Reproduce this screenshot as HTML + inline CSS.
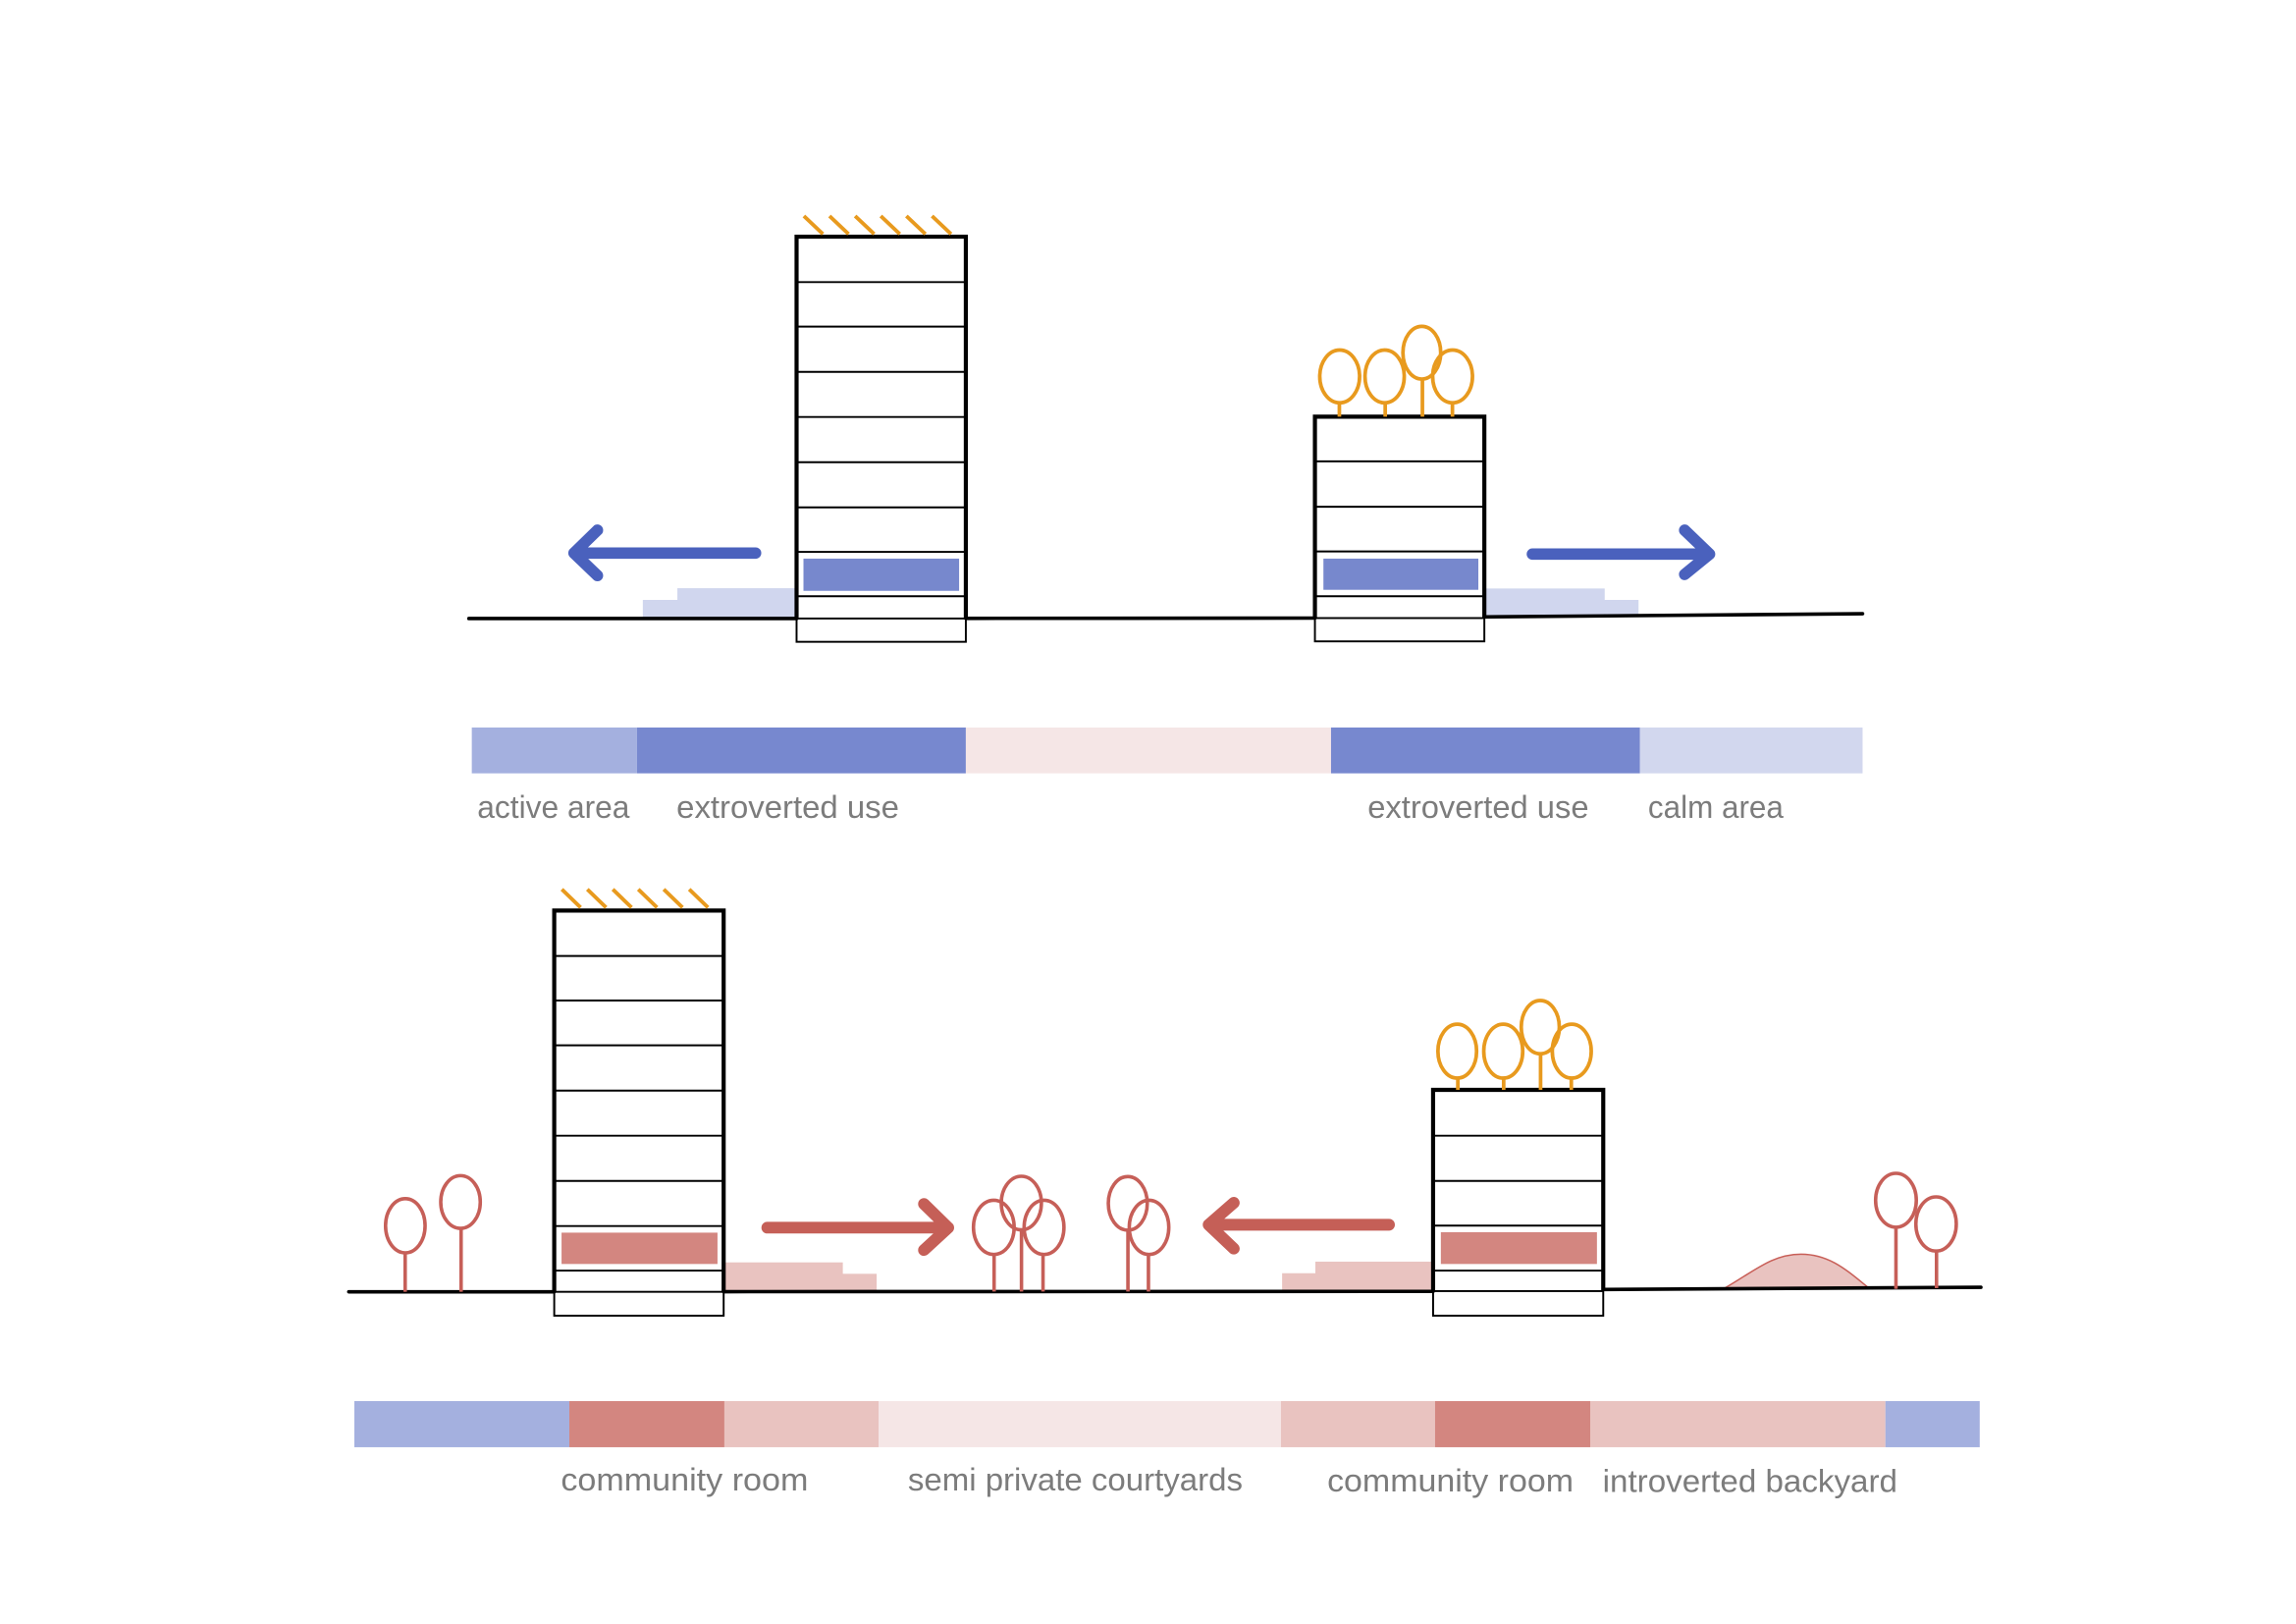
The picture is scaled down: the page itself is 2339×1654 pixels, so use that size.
<!DOCTYPE html>
<html>
<head>
<meta charset="utf-8">
<style>
html,body{margin:0;padding:0;background:#fff;}
svg{display:block;}
text{font-family:"Liberation Sans",sans-serif;fill:#7c7c7c;font-size:22px;}
</style>
</head>
<body>
<svg width="2339" height="1654" viewBox="0 0 1568 1108.8" preserveAspectRatio="none" xmlns="http://www.w3.org/2000/svg">
<rect x="0" y="0" width="1568" height="1108.8" fill="#fff"/>

<!-- ================= TOP SECTION ================= -->
<!-- steps -->
<rect x="439" y="409.6" width="105" height="12.7" fill="#d0d6ee"/>
<rect x="462.6" y="401.6" width="81.4" height="20.7" fill="#d0d6ee"/>
<rect x="1013.7" y="401.8" width="82.2" height="19.5" fill="#d0d6ee"/>
<rect x="1013.7" y="409.6" width="105.3" height="11.7" fill="#d0d6ee"/>

<!-- ground -->
<g stroke="#000" stroke-width="2.4" stroke-linecap="round" fill="none">
<line x1="320.2" y1="422.3" x2="544" y2="422.3"/>
<line x1="659.6" y1="422.2" x2="898" y2="422"/>
<line x1="1013.7" y1="421.2" x2="1272" y2="419"/>
</g>

<!-- Building A -->
<rect x="544" y="422.3" width="115.6" height="15.9" fill="none" stroke="#000" stroke-width="1.3"/>
<g stroke="#000" stroke-width="1.3">
<line x1="544" y1="192.6" x2="659.6" y2="192.6"/>
<line x1="544" y1="223" x2="659.6" y2="223"/>
<line x1="544" y1="253.9" x2="659.6" y2="253.9"/>
<line x1="544" y1="284.7" x2="659.6" y2="284.7"/>
<line x1="544" y1="315.6" x2="659.6" y2="315.6"/>
<line x1="544" y1="346.4" x2="659.6" y2="346.4"/>
<line x1="544" y1="376.8" x2="659.6" y2="376.8"/>
<line x1="544" y1="407.1" x2="659.6" y2="407.1"/>
</g>
<rect x="548.7" y="381.4" width="106.3" height="22" fill="#7788cd"/>
<path d="M544,423 V161.6 H659.6 V423" fill="none" stroke="#000" stroke-width="2.8" stroke-linejoin="miter"/>
<g stroke="#e89a1e" stroke-width="2.6" stroke-linecap="butt">
<line x1="549" y1="147.5" x2="562" y2="159.8"/>
<line x1="566.5" y1="147.5" x2="579.5" y2="159.8"/>
<line x1="584" y1="147.5" x2="597" y2="159.8"/>
<line x1="601.5" y1="147.5" x2="614.5" y2="159.8"/>
<line x1="619" y1="147.5" x2="632" y2="159.8"/>
<line x1="636.5" y1="147.5" x2="649.5" y2="159.8"/>
</g>

<!-- Building B -->
<rect x="898" y="422" width="115.7" height="15.9" fill="none" stroke="#000" stroke-width="1.3"/>
<g stroke="#000" stroke-width="1.3">
<line x1="898" y1="315" x2="1013.7" y2="315"/>
<line x1="898" y1="346" x2="1013.7" y2="346"/>
<line x1="898" y1="376.5" x2="1013.7" y2="376.5"/>
<line x1="898" y1="407.1" x2="1013.7" y2="407.1"/>
</g>
<rect x="903.8" y="381.4" width="105.8" height="21.3" fill="#7788cd"/>
<path d="M898,422.5 V284.5 H1013.7 V421.5" fill="none" stroke="#000" stroke-width="2.8"/>
<!-- orange trees B -->
<g stroke="#e89a1e" stroke-width="2.5" fill="none">
<ellipse cx="914.9" cy="257" rx="13.6" ry="18"/>
<line x1="914.7" y1="275" x2="914.7" y2="284.5"/>
<ellipse cx="945.6" cy="257" rx="13.4" ry="18"/>
<line x1="946" y1="275" x2="946" y2="284.5"/>
<ellipse cx="971" cy="240.8" rx="12.9" ry="18"/>
<line x1="971.4" y1="258.8" x2="971.4" y2="284.5"/>
<ellipse cx="992" cy="257" rx="13.6" ry="18"/>
<line x1="991.9" y1="275" x2="991.9" y2="284.5"/>
</g>

<!-- blue arrows -->
<g stroke="#4a61bd" stroke-width="7.8" stroke-linecap="round" stroke-linejoin="round" fill="none">
<path d="M516,377.6 H392 M408,362 L392,377.6 L408,393"/>
<path d="M1046.5,378.3 H1167.5 M1150.5,362 L1167.5,378.3 L1150.5,392.2"/>
</g>

<!-- top bar -->
<rect x="322.2" y="496.7" width="112.8" height="31.3" fill="#a4b0df"/>
<rect x="435" y="496.7" width="224.6" height="31.3" fill="#7788cf"/>
<rect x="659.6" y="496.7" width="249.4" height="31.3" fill="#f5e6e6"/>
<rect x="909" y="496.7" width="211" height="31.3" fill="#7788cf"/>
<rect x="1120" y="496.7" width="152" height="31.3" fill="#d2d7ee"/>

<text x="326" y="558.5" textLength="104" lengthAdjust="spacingAndGlyphs">active area</text>
<text x="462" y="558.5" textLength="152" lengthAdjust="spacingAndGlyphs">extroverted use</text>
<text x="934" y="558.5" textLength="151" lengthAdjust="spacingAndGlyphs">extroverted use</text>
<text x="1125.5" y="558.5" textLength="92.5" lengthAdjust="spacingAndGlyphs">calm area</text>

<!-- ================= BOTTOM SECTION ================= -->
<!-- steps -->
<rect x="494.2" y="861.9" width="81.4" height="20" fill="#e9c3c0"/>
<rect x="494.2" y="869.7" width="104.5" height="12" fill="#e9c3c0"/>
<rect x="875.6" y="869.3" width="103" height="12.5" fill="#e9c3c0"/>
<rect x="898.3" y="861.4" width="80.4" height="20.4" fill="#e9c3c0"/>

<!-- hill -->
<path d="M1177,880 C1198,868 1210,856.3 1230,856.3 C1250,856.3 1262,868 1277,880 Z" fill="#e9c3c0" stroke="#c85f58" stroke-width="1"/>

<!-- ground -->
<g stroke="#000" stroke-width="2.4" stroke-linecap="round" fill="none">
<line x1="238.2" y1="882" x2="378.5" y2="882"/>
<line x1="494.2" y1="881.9" x2="978.7" y2="881.7"/>
<line x1="1094.9" y1="880.4" x2="1352.8" y2="878.9"/>
</g>

<!-- Building C -->
<rect x="378.5" y="882" width="115.7" height="16.3" fill="none" stroke="#000" stroke-width="1.3"/>
<g stroke="#000" stroke-width="1.3">
<line x1="378.5" y1="652.7" x2="494.2" y2="652.7"/>
<line x1="378.5" y1="683.1" x2="494.2" y2="683.1"/>
<line x1="378.5" y1="713.7" x2="494.2" y2="713.7"/>
<line x1="378.5" y1="744.6" x2="494.2" y2="744.6"/>
<line x1="378.5" y1="775.4" x2="494.2" y2="775.4"/>
<line x1="378.5" y1="806.3" x2="494.2" y2="806.3"/>
<line x1="378.5" y1="837.1" x2="494.2" y2="837.1"/>
<line x1="378.5" y1="867.5" x2="494.2" y2="867.5"/>
</g>
<rect x="383.5" y="841.6" width="106.5" height="21.4" fill="#d38680"/>
<path d="M378.5,882.5 V621.7 H494.2 V882.5" fill="none" stroke="#000" stroke-width="2.8"/>
<g stroke="#e89a1e" stroke-width="2.6">
<line x1="383.7" y1="607.2" x2="396.5" y2="619.6"/>
<line x1="401.1" y1="607.2" x2="413.9" y2="619.6"/>
<line x1="418.5" y1="607.2" x2="431.3" y2="619.6"/>
<line x1="435.9" y1="607.2" x2="448.7" y2="619.6"/>
<line x1="453.3" y1="607.2" x2="466.1" y2="619.6"/>
<line x1="470.7" y1="607.2" x2="483.5" y2="619.6"/>
</g>

<!-- Building D -->
<rect x="978.7" y="881.5" width="116.2" height="16.8" fill="none" stroke="#000" stroke-width="1.3"/>
<g stroke="#000" stroke-width="1.3">
<line x1="978.7" y1="775.4" x2="1094.9" y2="775.4"/>
<line x1="978.7" y1="806.3" x2="1094.9" y2="806.3"/>
<line x1="978.7" y1="836.8" x2="1094.9" y2="836.8"/>
<line x1="978.7" y1="867.5" x2="1094.9" y2="867.5"/>
</g>
<rect x="984" y="841.3" width="106.6" height="21.7" fill="#d38680"/>
<path d="M978.7,882 V744.1 H1094.9 V881" fill="none" stroke="#000" stroke-width="2.8"/>
<!-- orange trees D -->
<g stroke="#e89a1e" stroke-width="2.5" fill="none">
<ellipse cx="995.2" cy="717.7" rx="13.2" ry="18.4"/>
<line x1="995.6" y1="736" x2="995.6" y2="744.1"/>
<ellipse cx="1026.6" cy="717.7" rx="13.3" ry="18.4"/>
<line x1="1026.9" y1="736" x2="1026.9" y2="744.1"/>
<ellipse cx="1051.9" cy="701.3" rx="13" ry="18.2"/>
<line x1="1052.1" y1="719.5" x2="1052.1" y2="744.1"/>
<ellipse cx="1073.4" cy="717.7" rx="13.3" ry="18.4"/>
<line x1="1073.1" y1="736" x2="1073.1" y2="744.1"/>
</g>

<!-- red trees -->
<g stroke="#c65f58" stroke-width="2.4" fill="none">
<ellipse cx="276.8" cy="836.9" rx="13.5" ry="18.5"/>
<line x1="276.7" y1="855.4" x2="276.7" y2="882"/>
<ellipse cx="314.5" cy="820.7" rx="13.5" ry="18"/>
<line x1="314.9" y1="838.7" x2="314.9" y2="882"/>

<ellipse cx="678.7" cy="838" rx="13.9" ry="18.5"/>
<line x1="678.9" y1="856.5" x2="678.9" y2="881.8"/>
<ellipse cx="697.5" cy="821.4" rx="13.7" ry="18.3"/>
<line x1="697.6" y1="839.7" x2="697.6" y2="881.8"/>
<ellipse cx="713" cy="838" rx="13.6" ry="18.5"/>
<line x1="712.3" y1="856.5" x2="712.3" y2="881.8"/>

<ellipse cx="770.2" cy="821.6" rx="13.3" ry="18.3"/>
<line x1="770.3" y1="839.9" x2="770.3" y2="881.8"/>
<ellipse cx="784.7" cy="838" rx="13.5" ry="18.5"/>
<line x1="784.3" y1="856.5" x2="784.3" y2="881.8"/>

<ellipse cx="1294.8" cy="819.5" rx="13.9" ry="18.4"/>
<line x1="1294.8" y1="837.9" x2="1294.8" y2="880"/>
<ellipse cx="1322.2" cy="835.7" rx="13.8" ry="18.5"/>
<line x1="1322.5" y1="854.2" x2="1322.5" y2="879.5"/>
</g>

<!-- red arrows -->
<g stroke="#c55f57" stroke-width="8" stroke-linecap="round" stroke-linejoin="round" fill="none">
<path d="M524,838.2 H647.6 M631,822 L647.6,838.2 L631,853.5"/>
<path d="M948.6,836.2 H825.4 M842.6,821.2 L825.4,836.2 L842.6,852.5"/>
</g>

<!-- bottom bar -->
<rect x="242" y="956.6" width="146.8" height="31.5" fill="#a4b0df"/>
<rect x="388.8" y="956.6" width="105.9" height="31.5" fill="#d38680"/>
<rect x="494.7" y="956.6" width="105.3" height="31.5" fill="#e9c3c0"/>
<rect x="600" y="956.6" width="274.8" height="31.5" fill="#f5e6e6"/>
<rect x="874.8" y="956.6" width="105.2" height="31.5" fill="#e9c3c0"/>
<rect x="980" y="956.6" width="106" height="31.5" fill="#d38680"/>
<rect x="1086" y="956.6" width="201.6" height="31.5" fill="#e9c3c0"/>
<rect x="1287.6" y="956.6" width="64.4" height="31.5" fill="#a4b0df"/>

<text x="383" y="1017.6" textLength="169" lengthAdjust="spacingAndGlyphs">community room</text>
<text x="620" y="1017.6" textLength="228.7" lengthAdjust="spacingAndGlyphs">semi private courtyards</text>
<text x="906.4" y="1018.2" textLength="168.2" lengthAdjust="spacingAndGlyphs">community room</text>
<text x="1094.5" y="1018.6" textLength="201.3" lengthAdjust="spacingAndGlyphs">introverted backyard</text>
</svg>
</body>
</html>
